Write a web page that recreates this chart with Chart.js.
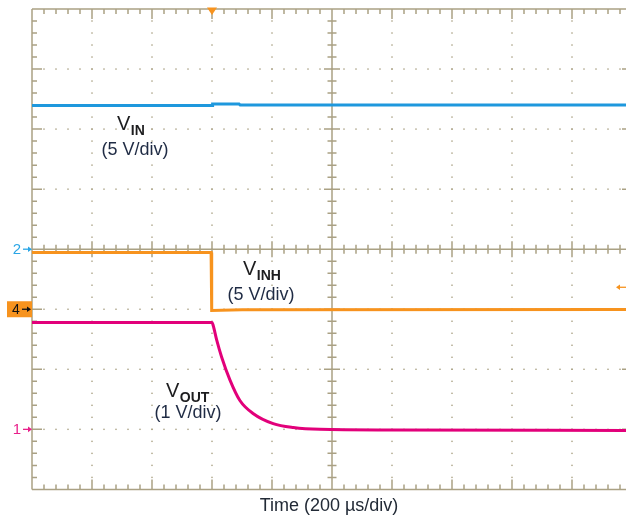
<!DOCTYPE html>
<html>
<head>
<meta charset="utf-8">
<script src="https://cdn.jsdelivr.net/npm/chart.js@4/dist/chart.umd.min.js"></script>
<style>
  html, body { margin: 0; padding: 0; background: #ffffff; }
  #wrap { width: 626px; height: 519px; position: relative; }
  canvas { display: block; }
</style>
</head>
<body>
<div id="wrap"><canvas id="c" width="626" height="519"></canvas></div>
<script>
// ---- Data (time in µs, voltages in V) ----
const vinTime   = [0, 600, 602, 690, 694, 1980];
const vinVolts  = [11.96, 11.96, 12.1, 12.1, 12.0, 12.0];

const vinhTime  = [0, 597, 599, 700, 1980];
const vinhVolts = [4.72, 4.72, -0.1, -0.04, -0.02];

const voutTime  = [0, 600, 604, 616, 632, 660, 693, 738, 804, 871, 960, 1200, 1980];
const voutVolts = [1.78, 1.78, 1.73, 1.48, 1.205, 0.82, 0.48, 0.26, 0.095, 0.03, 0.0, -0.01, -0.02];

const seriesNames = ['VIN', 'VINH', 'VOUT'];
const timeTitle = 'Time (200 µs/div)';

// ---- Styles ----
const FONT = "'Liberation Sans', Arial, Helvetica, sans-serif";
const GRID = '#aaa184';
const BLUE = '#1e98dd';
const ORANGE = '#f7931e';
const MAGENTA = '#e2007a';

function pts(t, v) { return t.map((x, i) => ({ x: x, y: v[i] })); }

const gridPlugin = {
  id: 'scopeGrid',
  beforeDatasetsDraw(chart) {
    const ctx = chart.ctx, xs = chart.scales.x, ys = chart.scales.y1;
    const X = t => xs.getPixelForValue(t);
    const Y = v => ys.getPixelForValue(v);
    const left = X(0), right = X(2000), top = Y(7), bottom = Y(-1);
    const cx = X(1000), cy = Y(3);
    ctx.save();
    ctx.fillStyle = GRID;
    for (let i = 1; i < 10; i++) {
      if (i === 5) continue;
      const x = X(i * 200);
      for (let j = 1; j < 40; j++) ctx.fillRect(x - 0.7, Y(-1 + j * 0.2) - 0.7, 1.4, 1.4);
    }
    for (let j = 1; j < 8; j++) {
      if (j === 4) continue;
      const y = Y(-1 + j);
      for (let i = 1; i < 50; i++) ctx.fillRect(X(i * 40) - 0.7, y - 0.7, 1.4, 1.4);
    }
    ctx.strokeStyle = GRID;
    ctx.lineWidth = 1.5;
    ctx.beginPath();
    ctx.moveTo(left, top); ctx.lineTo(right, top);
    ctx.moveTo(left, bottom); ctx.lineTo(right, bottom);
    ctx.moveTo(left, top); ctx.lineTo(left, bottom);
    ctx.moveTo(right, top); ctx.lineTo(right, bottom);
    ctx.moveTo(cx, top); ctx.lineTo(cx, bottom);
    ctx.moveTo(left, cy); ctx.lineTo(right, cy);
    for (let i = 1; i < 50; i++) {
      const x = X(i * 40);
      const major = i % 5 === 0;
      const len = major ? 10 : 5;
      ctx.moveTo(x, top); ctx.lineTo(x, top + len);
      ctx.moveTo(x, bottom); ctx.lineTo(x, bottom - len);
      const h = major ? 8 : 4.5;
      ctx.moveTo(x, cy - h); ctx.lineTo(x, cy + h);
    }
    for (let j = 1; j < 40; j++) {
      const y = Y(-1 + j * 0.2);
      const major = j % 5 === 0;
      const len = major ? 10 : 5;
      ctx.moveTo(left, y); ctx.lineTo(left + len, y);
      ctx.moveTo(right, y); ctx.lineTo(right - len, y);
      const h = major ? 8 : 4.5;
      ctx.moveTo(cx - h, y); ctx.lineTo(cx + h, y);
    }
    ctx.stroke();
    ctx.restore();
  }
};

function arrowRight(ctx, x0, x1, y, color) {
  ctx.strokeStyle = color; ctx.fillStyle = color; ctx.lineWidth = 1.3;
  ctx.beginPath(); ctx.moveTo(x0, y); ctx.lineTo(x1 - 3, y); ctx.stroke();
  ctx.beginPath(); ctx.moveTo(x1, y); ctx.lineTo(x1 - 4, y - 2.8); ctx.lineTo(x1 - 4, y + 2.8); ctx.closePath(); ctx.fill();
}
function arrowLeft(ctx, x0, x1, y, color) {
  ctx.strokeStyle = color; ctx.fillStyle = color; ctx.lineWidth = 1.3;
  ctx.beginPath(); ctx.moveTo(x1, y); ctx.lineTo(x0 + 3, y); ctx.stroke();
  ctx.beginPath(); ctx.moveTo(x0, y); ctx.lineTo(x0 + 4, y - 2.8); ctx.lineTo(x0 + 4, y + 2.8); ctx.closePath(); ctx.fill();
}

function subLabel(ctx, main, sub, x, base) {
  ctx.fillStyle = '#1d1d1f';
  ctx.textBaseline = 'alphabetic';
  ctx.textAlign = 'left';
  ctx.font = '20px ' + FONT;
  ctx.fillText(main, x, base);
  const w = ctx.measureText(main).width;
  ctx.font = 'bold 14px ' + FONT;
  ctx.fillText(sub, x + w + 0.5, base + 5);
}
function scaleLabel(ctx, text, cx, my) {
  ctx.fillStyle = '#1f2b44';
  ctx.font = '18px ' + FONT;
  ctx.textAlign = 'center';
  ctx.textBaseline = 'middle';
  ctx.fillText(text, cx, my);
}

const markerPlugin = {
  id: 'scopeMarkers',
  afterDatasetsDraw(chart) {
    const ctx = chart.ctx, xs = chart.scales.x;
    const y1 = chart.scales.y1, y2 = chart.scales.y2, y4 = chart.scales.y4;
    const left = xs.getPixelForValue(0);
    const top = y1.getPixelForValue(7);
    ctx.save();
    ctx.font = '15px ' + FONT;
    ctx.textAlign = 'center';
    ctx.textBaseline = 'middle';
    let y = y2.getPixelForValue(0);
    ctx.fillStyle = '#2aa6e6';
    ctx.fillText('2', 17, y + 0.5);
    arrowRight(ctx, 23, left, y, '#2aa6e6');
    y = y1.getPixelForValue(0);
    ctx.fillStyle = '#e8208a';
    ctx.fillText('1', 17, y + 0.5);
    arrowRight(ctx, 23, left, y, '#e8208a');
    y = y4.getPixelForValue(0);
    ctx.fillStyle = ORANGE;
    ctx.fillRect(7, y - 8, left - 7, 16);
    ctx.fillStyle = '#111';
    ctx.font = '14px ' + FONT;
    ctx.fillText('4', 16, y + 0.5);
    arrowRight(ctx, 22, left - 1, y, '#111');
    const tx = xs.getPixelForValue(600);
    ctx.fillStyle = ORANGE;
    ctx.beginPath();
    ctx.moveTo(tx - 5, top - 1.5); ctx.lineTo(tx + 5, top - 1.5); ctx.lineTo(tx, top + 6); ctx.closePath();
    ctx.fill();
    const ty = y4.getPixelForValue(1.83);
    arrowLeft(ctx, 616, 626, ty, ORANGE);
    subLabel(ctx, 'V', 'IN', 117, 130);
    scaleLabel(ctx, '(5 V/div)', 135, 150);
    subLabel(ctx, 'V', 'INH', 243, 275);
    scaleLabel(ctx, '(5 V/div)', 261, 295);
    subLabel(ctx, 'V', 'OUT', 166, 397);
    scaleLabel(ctx, '(1 V/div)', 188, 413);
    ctx.restore();
  }
};

new Chart(document.getElementById('c'), {
  type: 'line',
  data: {
    datasets: [
      { label: seriesNames[0], data: pts(vinTime, vinVolts), yAxisID: 'y2',
        borderColor: BLUE, borderWidth: 3, pointRadius: 0, tension: 0 },
      { label: seriesNames[1], data: pts(vinhTime, vinhVolts), yAxisID: 'y4',
        borderColor: ORANGE, borderWidth: 3, pointRadius: 0, tension: 0 },
      { label: seriesNames[2], data: pts(voutTime, voutVolts), yAxisID: 'y1',
        borderColor: MAGENTA, borderWidth: 3, pointRadius: 0, cubicInterpolationMode: 'monotone' }
    ]
  },
  options: {
    responsive: false,
    animation: false,
    devicePixelRatio: 1,
    layout: { padding: { left: 32, top: 9, right: 0, bottom: 0 } },
    plugins: { legend: { display: false }, tooltip: { enabled: false } },
    scales: {
      x: {
        type: 'linear', min: 0, max: 1980,
        ticks: { display: false },
        grid: { display: false, drawTicks: false },
        border: { display: false },
        title: { display: true, text: timeTitle, color: '#222a36',
                 font: { family: FONT, size: 18 }, padding: { top: 6, bottom: 2 } }
      },
      y1: { type: 'linear', min: -1, max: 7, display: false },
      y2: { type: 'linear', min: -20, max: 20, display: false },
      y4: { type: 'linear', min: -15, max: 25, display: false }
    }
  },
  plugins: [gridPlugin, markerPlugin]
});
</script>
</body>
</html>
